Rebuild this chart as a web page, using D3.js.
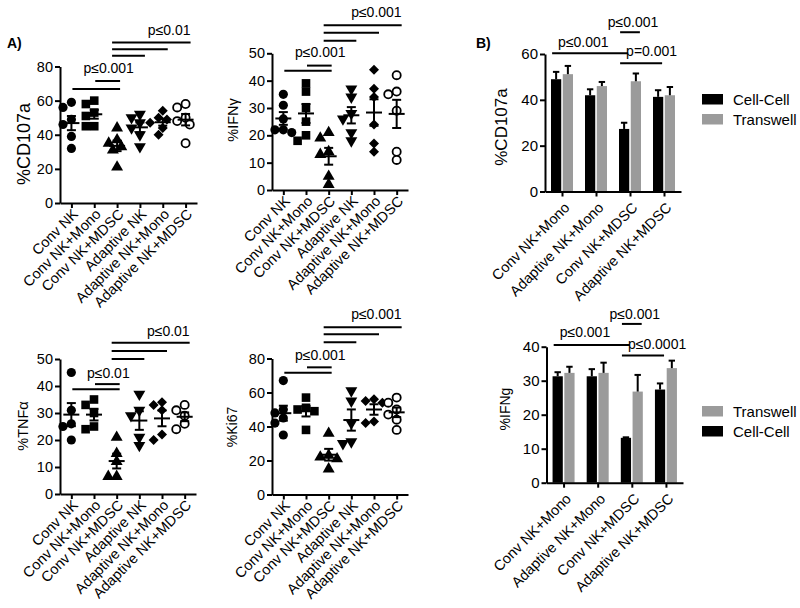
<!DOCTYPE html>
<html><head><meta charset="utf-8">
<script src="https://cdn.jsdelivr.net/npm/d3@7"></script>
<style>
body{margin:0;background:#fff}
svg text{font-family:"Liberation Sans",Arial,Helvetica,sans-serif;fill:#000}
</style>
</head><body>
<svg id="c" width="800" height="608"></svg>
<script>
// ---------------- DATA ----------------
const groupsA = ["Conv NK","Conv NK+Mono","Conv NK+MDSC","Adaptive NK","Adaptive NK+Mono","Adaptive NK+MDSC"];
const shapesA = ["circle","square","triangle","triangleDown","diamond","openCircle"];

const cd107aDots = [[59,56,49,46,39,32],[60,58,53,51,45,45],[44,37,35,33,31,21],[52,50,47,44,40,33],[54,50,49,47,44,40],[58,56,50,48,46,35]];
const ifngDots   = [[35,31,26,22,21,22],[39,36,30,25,20,18],[21,19,14,13,5,2],[37,34,28,26,21,18],[44,37,34,24,17,14],[42,36,35,29,14,11]];
const tnfaDots   = [[45,31,26,25,20],[35,33,30,25,24],[21,15,12,6.5,6.5],[37,31,29,21,18],[34,33,31,22,20],[33,31,29,26,24]];
const ki67Dots   = [[67,50,48,45,42,35],[57,51,50,49,38],[36,23,22,21,15],[61,55,42,31,30],[56,55,54,43,42],[57,54,50,47,44,38]];

const ticksCD107aA = [0,20,40,60,80];
const ticksIFNgA   = [0,10,20,30,40,50];
const ticksTNFa    = [0,10,20,30,40,50];
const ticksKi67    = [0,20,40,60,80];

// significance bars: [fromGroup, toGroup, level]
const cd107aSig = [[0,2,66.8],[1,2,71.5],[2,3,86.3],[2,4,90.1],[2,5,94]];
const cd107aSigText = [["p≤0.001",76],["p≤0.01",98.5]];
const ifngSig = [[0,2,43.6],[1,2,45.5],[2,3,54.6],[2,4,57.5],[2,5,60.3]];
const ifngSigText = [["p≤0.001",48.8],["p≤0.001",63.2]];
const tnfaSig = [[0,2,38.8],[1,2,40.7],[2,3,50],[2,4,53],[2,5,56]];
const tnfaSigText = [["p≤0.01",43],["p≤0.01",58.5]];
const ki67Sig = [[0,2,71.6],[1,2,74.8],[2,3,89.5],[2,4,94.2],[2,5,98.4]];
const ki67SigText = [["p≤0.001",79],["p≤0.001",103]];

const groupsB = ["Conv NK+Mono","Adaptive NK+Mono","Conv NK+MDSC","Adaptive NK+MDSC"];
const seriesB = ["Cell-Cell","Transwell"];
const cd107aCellCell = [49,42,27.3,41.3];
const cd107aCellCellSem = [3.2,2.6,2.7,2.9];
const cd107aTranswell = [51.2,46,48.1,42];
const cd107aTranswellSem = [3.6,1.8,3.4,3.6];
const ifngCellCell = [31.3,31.3,13.2,27.4];
const ifngCellCellSem = [1.2,2.1,0.15,1.8];
const ifngTranswell = [32.3,32.3,26.8,33.7];
const ifngTranswellSem = [1.8,3.0,4.9,2.2];
const ticksCD107aB = [0,20,40,60];
const ticksIFNgB = [0,10,20,30,40];
// [fromGroup, fromSeries, toGroup, toSeries, level, label]
const cd107aBSig = [[0,0,2,0,60.3,"p≤0.001"],[2,0,2,1,69.5,"p≤0.001"],[2,0,3,0,56,"p=0.001"]];
const ifngBSig = [[0,0,2,0,40.5,"p≤0.001"],[2,0,2,1,46.7,"p≤0.001"],[2,0,3,0,37.4,"p≤0.0001"]];
const legendCD107a = ["Cell-Cell","Transwell"];
const legendIFNg = ["Transwell","Cell-Cell"];

// ---------------- DRAW ----------------
const svg = d3.select("#c");
const colorB = {"Cell-Cell":"#000000","Transwell":"#9b9b9b"};

function symbolPath(type){
  switch(type){
    case "circle": return d3.symbol(d3.symbolCircle, 66)();
    case "openCircle": return d3.symbol(d3.symbolCircle, 52)();
    case "square": return d3.symbol(d3.symbolSquare, 74)();
    case "triangle": case "triangleDown": return d3.symbol(d3.symbolTriangle, 62)();
    case "diamond": return d3.symbol(d3.symbolSquare, 50)();
  }
}
function symbolRot(type){ return type==="triangleDown"?180:(type==="diamond"?45:0); }

function swarm(vals, y, d, step){
  const idx = vals.map((v,i)=>i).sort((a,b)=>vals[b]-vals[a]);
  const placed=[], off=new Array(vals.length).fill(0);
  const cands=[0,-1,1,-2,2,-3,3,-4,4];
  for(const i of idx){
    const py=y(vals[i]);
    for(const k of cands){
      const c=k*step;
      if(placed.every(p=>Math.hypot(p.x-c,p.y-py)>=d)){off[i]=c;placed.push({x:c,y:py});break;}
    }
  }
  return off;
}

function yAxis(g, y, ticks, fs){
  const ax = g.append("g").attr("transform",`translate(${y.x0},0)`)
    .call(d3.axisLeft(y).tickValues(ticks).tickSize(5).tickSizeOuter(0).tickPadding(2));
  ax.select(".domain").attr("stroke","#000").attr("stroke-width",2);
  ax.selectAll(".tick line").attr("stroke","#000").attr("stroke-width",2);
  ax.selectAll(".tick text").style("font-size",fs+"px").attr("fill","#000");
}
function xAxis(g, x, yPos, fs, tx, ty){
  const ax = g.append("g").attr("transform",`translate(0,${yPos})`)
    .call(d3.axisBottom(x).tickSize(5).tickSizeOuter(0));
  ax.select(".domain").attr("stroke","#000").attr("stroke-width",2);
  ax.selectAll(".tick line").attr("stroke","#000").attr("stroke-width",2);
  ax.selectAll(".tick text").style("font-size",fs+"px").attr("fill","#000")
    .attr("x",0).attr("y",0).attr("dy",0)
    .attr("transform",`translate(${tx},${ty}) rotate(-45)`)
    .style("text-anchor","end");
}

function dotPanel(cfg){
  const g = svg.append("g");
  const x = d3.scalePoint(groupsA,[cfg.x0,cfg.x1]).padding(0.5);
  const y = d3.scaleLinear([0,cfg.max],[cfg.y0,cfg.yTop]);
  y.x0 = cfg.x0;
  cfg.dots.forEach((vals,gi)=>{
    const cx = x(groupsA[gi]);
    const type = shapesA[gi];
    const off = swarm(vals,y,7.5,4.2);
    g.selectAll(null).data(vals).join("path")
      .attr("d",symbolPath(type))
      .attr("transform",(v,i)=>`translate(${cx+off[i]},${y(v)}) rotate(${symbolRot(type)})`)
      .attr("fill",type==="openCircle"?"#fff":"#000")
      .attr("stroke",type==="openCircle"?"#000":"none")
      .attr("stroke-width",1.8);
    const m = d3.mean(vals), sem = d3.deviation(vals)/Math.sqrt(vals.length);
    const lg = g.append("g").attr("stroke","#000").attr("stroke-width",2);
    lg.append("line").attr("x1",cx-8).attr("x2",cx+8).attr("y1",y(m)).attr("y2",y(m));
    lg.append("line").attr("x1",cx).attr("x2",cx).attr("y1",y(m-sem)).attr("y2",y(m+sem));
    lg.append("line").attr("x1",cx-4.5).attr("x2",cx+4.5).attr("y1",y(m-sem)).attr("y2",y(m-sem));
    lg.append("line").attr("x1",cx-4.5).attr("x2",cx+4.5).attr("y1",y(m+sem)).attr("y2",y(m+sem));
  });
  yAxis(g,y,cfg.ticks,14.5);
  xAxis(g,x,cfg.y0,14.5,7,12);
  g.append("text").attr("transform",`translate(${cfg.tx},${cfg.ty}) rotate(-90)`)
    .attr("text-anchor","middle").attr("dominant-baseline","central")
    .style("font-size",cfg.tfs+"px").text(cfg.title);
  cfg.sig.forEach(([a,b,lv],i)=>{
    const upper = a===2 && b>2;
    const x1 = upper ? x(groupsA[a])-5 : x(groupsA[a])+1;
    const x2 = upper ? x(groupsA[b])+5 : x(groupsA[b])+3;
    g.append("line").attr("x1",x1).attr("x2",x2).attr("y1",y(lv)).attr("y2",y(lv))
      .attr("stroke","#000").attr("stroke-width",2);
  });
  const [lowT, upT] = cfg.sigText;
  const mid = (x(groupsA[1])+x(groupsA[2]))/2+3;
  g.append("text").attr("x",mid).attr("y",y(lowT[1])).attr("text-anchor","middle")
    .style("font-size","14px").text(lowT[0]);
  g.append("text").attr("x",x(groupsA[5])+5).attr("y",y(upT[1])).attr("text-anchor","end")
    .style("font-size","14px").text(upT[0]);
}

function barPanel(cfg){
  const g = svg.append("g");
  const x = d3.scalePoint(groupsB,[cfg.x0,cfg.x1]).padding(0.5);
  const inner = d3.scaleBand(seriesB,[-11,11]).paddingInner(0.13);
  const y = d3.scaleLinear([0,cfg.max],[cfg.y0,cfg.yTop]);
  y.x0 = cfg.x0;
  const series = [cfg.cc, cfg.tw], sems=[cfg.ccSem, cfg.twSem];
  series.forEach((vals,si)=>{
    const s = seriesB[si];
    vals.forEach((v,gi)=>{
      const bx = x(groupsB[gi])+inner(s), bw = inner.bandwidth();
      g.append("rect").attr("x",bx).attr("width",bw).attr("y",y(v)).attr("height",y(0)-y(v))
        .attr("fill",colorB[s]);
      const cx = bx+bw/2, top = y(v+sems[si][gi]);
      g.append("line").attr("x1",cx).attr("x2",cx).attr("y1",y(v)).attr("y2",top)
        .attr("stroke","#000").attr("stroke-width",2);
      g.append("line").attr("x1",cx-3.2).attr("x2",cx+3.2).attr("y1",top).attr("y2",top)
        .attr("stroke","#000").attr("stroke-width",2);
    });
  });
  yAxis(g,y,cfg.ticks,15);
  xAxis(g,x,cfg.y0,14.5,8,17);
  g.append("text").attr("transform",`translate(${cfg.tx},${cfg.ty}) rotate(-90)`)
    .attr("text-anchor","middle").attr("dominant-baseline","central")
    .style("font-size",cfg.tfs+"px").text(cfg.title);
  const bc = (gi,si)=> x(groupsB[gi])+inner(seriesB[si])+inner.bandwidth()/2;
  cfg.sig.forEach(([ga,sa,gb,sb,lv,label],i)=>{
    const x1 = bc(ga,sa)-4, x2 = bc(gb,sb)+4;
    g.append("line").attr("x1",x1).attr("x2",x2).attr("y1",y(lv)).attr("y2",y(lv))
      .attr("stroke","#000").attr("stroke-width",2);
    const t = g.append("text").attr("y",y(cfg.sigLabelLv[i])).style("font-size","14px").text(label);
    if(i===1) t.attr("x",(x1+x2)/2+3).attr("text-anchor","middle");
    else t.attr("x",x1+6).attr("text-anchor","start");
  });
  cfg.legend.forEach((s,i)=>{
    const ly = cfg.ly + i*20;
    g.append("rect").attr("x",702).attr("y",ly).attr("width",21).attr("height",10.5).attr("fill",colorB[s]);
    g.append("text").attr("x",733).attr("y",ly+10.5).style("font-size","15px").text(s);
  });
}

dotPanel({dots:cd107aDots,title:"%CD107a",tfs:18,x0:60,x1:197,y0:203,yTop:66.5,max:80,ticks:ticksCD107aA,tx:24,ty:144,sig:cd107aSig,sigText:cd107aSigText});
dotPanel({dots:ifngDots,title:"%IFNγ",tfs:14.5,x0:272,x1:408,y0:190,yTop:53.3,max:50,ticks:ticksIFNgA,tx:233,ty:120,sig:ifngSig,sigText:ifngSigText});
dotPanel({dots:tnfaDots,title:"%TNFα",tfs:14.5,x0:60,x1:196,y0:494,yTop:359,max:50,ticks:ticksTNFa,tx:22.5,ty:426,sig:tnfaSig,sigText:tnfaSigText});
dotPanel({dots:ki67Dots,title:"%Ki67",tfs:14,x0:272,x1:408,y0:494.5,yTop:358.5,max:80,ticks:ticksKi67,tx:232,ty:427,sig:ki67Sig,sigText:ki67SigText});

barPanel({cc:cd107aCellCell,ccSem:cd107aCellCellSem,tw:cd107aTranswell,twSem:cd107aTranswellSem,
  title:"%CD107a",tfs:17,x0:545,x1:681,y0:191.5,yTop:54,max:60,ticks:ticksCD107aB,tx:501,ty:127,
  sig:cd107aBSig,sigLabelLv:[63.2,72,59.2],legend:legendCD107a,ly:94});
barPanel({cc:ifngCellCell,ccSem:ifngCellCellSem,tw:ifngTranswell,twSem:ifngTranswellSem,
  title:"%IFNg",tfs:14,x0:546.5,x1:683,y0:482.7,yTop:346.7,max:40,ticks:ticksIFNgB,tx:505,ty:409,
  sig:ifngBSig,sigLabelLv:[42.8,48.1,39.3],legend:legendIFNg,ly:406});

svg.append("text").attr("x",7).attr("y",48).style("font-size","14px").style("font-weight","bold").text("A)");
svg.append("text").attr("x",476).attr("y",48).style("font-size","14px").style("font-weight","bold").text("B)");
</script>
</body></html>
